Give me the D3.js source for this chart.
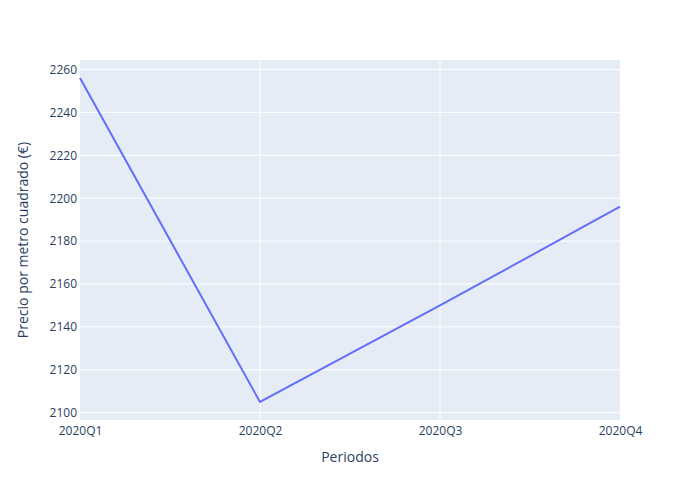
<!DOCTYPE html>
<html>
<head>
<meta charset="utf-8">
<script src="https://cdn.jsdelivr.net/npm/d3@7"></script>
<style>
  body { margin: 0; background: #fff; }
  text { font-family: "Open Sans", sans-serif; }
</style>
</head>
<body>
<script>
var periods = ["2020Q1", "2020Q2", "2020Q3", "2020Q4"];
var prices = [2256, 2105, 2150, 2196];
var yTicks = [2100, 2120, 2140, 2160, 2180, 2200, 2220, 2240, 2260];

var width = 700, height = 500;
var margin = { top: 60, right: 80, bottom: 80, left: 80 };
var innerW = width - margin.left - margin.right;
var innerH = height - margin.top - margin.bottom;

var svg = d3.select("body").append("svg")
  .attr("width", width)
  .attr("height", height);

// plotly-like autorange padding
var yMin = d3.min(prices), yMax = d3.max(prices);
var pad = (yMax - yMin) / 18;

var x = d3.scalePoint()
  .domain(periods)
  .range([margin.left, margin.left + innerW]);

var y = d3.scaleLinear()
  .domain([yMin - pad, yMax + pad])
  .range([margin.top + innerH, margin.top]);

svg.append("rect")
  .attr("x", margin.left).attr("y", margin.top)
  .attr("width", innerW).attr("height", innerH)
  .attr("fill", "#e5ecf6");

// grid
svg.append("g").selectAll("line").data(yTicks)
  .enter().append("line")
  .attr("x1", margin.left).attr("x2", margin.left + innerW)
  .attr("y1", function(d) { return y(d); })
  .attr("y2", function(d) { return y(d); })
  .attr("stroke", "#fff").attr("stroke-width", 1);

svg.append("g").selectAll("line").data(periods.slice(1, -1))
  .enter().append("line")
  .attr("x1", function(d) { return x(d); })
  .attr("x2", function(d) { return x(d); })
  .attr("y1", margin.top).attr("y2", margin.top + innerH)
  .attr("stroke", "#fff").attr("stroke-width", 1);

// axes
var yAxis = svg.append("g")
  .attr("transform", "translate(" + margin.left + ",0)")
  .call(d3.axisLeft(y).tickValues(yTicks).tickFormat(d3.format("d")).tickSize(0).tickPadding(3));
yAxis.select(".domain").remove();
yAxis.selectAll("text").attr("fill", "#2a3f5f").attr("font-size", "12px");

var xAxis = svg.append("g")
  .attr("transform", "translate(0," + (margin.top + innerH) + ")")
  .call(d3.axisBottom(x).tickSize(0).tickPadding(6));
xAxis.select(".domain").remove();
xAxis.selectAll("text").attr("fill", "#2a3f5f").attr("font-size", "12px");

// line
var line = d3.line()
  .x(function(d, i) { return x(periods[i]); })
  .y(function(d) { return y(d); });

svg.append("path")
  .datum(prices)
  .attr("d", line)
  .attr("fill", "none")
  .attr("stroke", "#636efa")
  .attr("stroke-width", 2);

// titles
svg.append("text")
  .attr("x", margin.left + innerW / 2)
  .attr("y", 462)
  .attr("text-anchor", "middle")
  .attr("fill", "#2a3f5f")
  .attr("font-size", "14px")
  .text("Periodos");

svg.append("text")
  .attr("transform", "translate(28," + (margin.top + innerH / 2) + ") rotate(-90)")
  .attr("text-anchor", "middle")
  .attr("fill", "#2a3f5f")
  .attr("font-size", "14px")
  .text("Precio por metro cuadrado (€)");
</script>
</body>
</html>
